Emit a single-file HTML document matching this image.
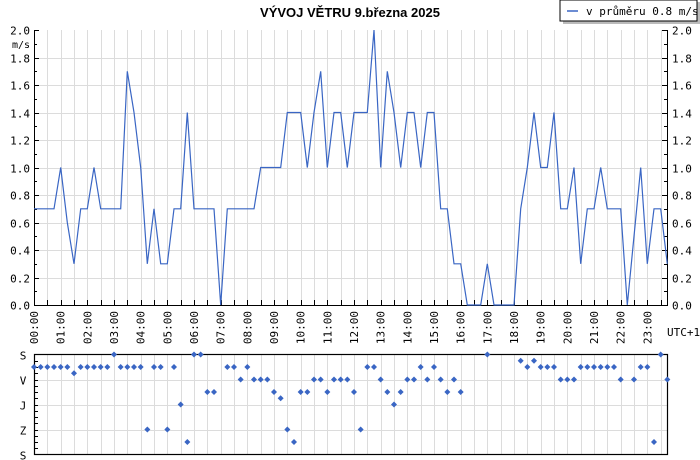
<!DOCTYPE html>
<html><head><meta charset="utf-8"><style>
body{margin:0;background:#fff;}
svg{display:block;font-family:"DejaVu Sans Mono","Liberation Mono",monospace;}
</style></head><body>
<svg id="c" width="700" height="460" viewBox="0 0 700 460">
<text x="350" y="17" text-anchor="middle" font-family="Liberation Sans, sans-serif" font-weight="bold" font-size="13">VÝVOJ VĚTRU  9.března 2025</text>
<g>
<rect x="563" y="2" width="137" height="22" fill="#bbb"/>
<rect x="560" y="0" width="137" height="21" fill="#fff" stroke="#000"/>
<line x1="567" y1="11" x2="578" y2="11" stroke="#3a66c4" stroke-width="1.5"/>
<text x="586" y="15" font-size="11">v průměru 0.8 m/s</text>
</g>
<g id="grid"></g>
<g id="axes"></g>
<g id="marks"></g>
</svg>
<script>
const speeds=[0.7,0.7,0.7,0.7,1.0,0.6,0.3,0.7,0.7,1.0,0.7,0.7,0.7,0.7,1.7,1.4,1.0,0.3,0.7,0.3,0.3,0.7,0.7,1.4,0.7,0.7,0.7,0.7,0,0.7,0.7,0.7,0.7,0.7,1.0,1.0,1.0,1.0,1.4,1.4,1.4,1.0,1.4,1.7,1.0,1.4,1.4,1.0,1.4,1.4,1.4,2.0,1.0,1.7,1.4,1.0,1.4,1.4,1.0,1.4,1.4,0.7,0.7,0.3,0.3,0,0,0,0.3,0,0,0,0,0.7,1.0,1.4,1.0,1.0,1.4,0.7,0.7,1.0,0.3,0.7,0.7,1.0,0.7,0.7,0.7,0,0.5,1.0,0.3,0.7,0.7,0.3];
const directions=[45,45,45,45,45,45,67.5,45,45,45,45,45,0,45,45,45,45,270,45,45,270,45,180,315,0,0,135,135,null,45,45,90,45,90,90,90,135,157.5,270,315,135,135,90,90,135,90,90,90,135,270,45,45,90,135,180,135,90,90,45,90,45,90,135,90,135,null,null,null,0,null,null,null,null,22.5,45,22.5,45,45,45,90,90,90,45,45,45,45,45,45,90,null,90,45,45,315,0,90];
const yTicks=["0.0","0.2","0.4","0.6","0.8","1.0","1.2","1.4","1.6","1.8","2.0"];
const hourLabels=["00:00","01:00","02:00","03:00","04:00","05:00","06:00","07:00","08:00","09:00","10:00","11:00","12:00","13:00","14:00","15:00","16:00","17:00","18:00","19:00","20:00","21:00","22:00","23:00"];
const dirLabels=["S","V","J","Z","S"];
const NS='http://www.w3.org/2000/svg';
const X0=34,X1=667,PH=26.667,Y0=305,Y1=30,D0=354.5,D1=454.5;
const xs=t=>X0+t*PH;            // t hours
const ys=v=>Y0-(v/2)*(Y0-Y1);
const yd=d=>D0+(d/360)*(D1-D0);
function mk(p,tag,a){const e=document.createElementNS(NS,tag);for(const k in a)e.setAttribute(k,a[k]);p.appendChild(e);return e;}
const grid=document.getElementById('grid'),axes=document.getElementById('axes'),marks=document.getElementById('marks');
// grids
for(let h=0.5;h<23.8;h+=0.5){const x=Math.round(xs(h))+0.5;if(x>=X1)break;
 let l=mk(grid,'line',{x1:x,y1:Y1,x2:x,y2:Y0,stroke:'#dcdcdc'});
 
 let l2=mk(grid,'line',{x1:x,y1:D0,x2:x,y2:D1,stroke:'#dcdcdc'});
 
 let tk=mk(axes,'line',{x1:x,y1:Y0,x2:x,y2:Y0-5,stroke:'#000'});
 }
yTicks.forEach((t,i)=>{const v=parseFloat(t),y=Math.round(ys(v))+0.5;
 if(i>0&&i<yTicks.length-1){let g=mk(grid,'line',{x1:X0,y1:y,x2:X1,y2:y,stroke:'#dcdcdc'});
 }
 [[X0,X0+5],[X1,X1-5]].forEach(p=>{mk(axes,'line',{x1:p[0],y1:y,x2:p[1],y2:y,stroke:'#000'});});
 const ym=Math.round(ys(v+0.1))+0.5;if(i<yTicks.length-1){mk(axes,'line',{x1:X0,y1:ym,x2:X0+3,y2:ym,stroke:'#000'});mk(axes,'line',{x1:X1,y1:ym,x2:X1-3,y2:ym,stroke:'#000'});}
 let a=mk(axes,'text',{x:30,y:y+4,'text-anchor':'end','font-size':11});a.textContent=t;
 
 let b=mk(axes,'text',{x:672,y:y+4,'font-size':11});b.textContent=t;
 });
let u=mk(axes,'text',{x:30,y:48,'text-anchor':'end','font-size':10});u.textContent='m/s';

let frame=mk(axes,'path',{d:`M${X0+.5},${Y1}V${Y0+.5}H${X1+.5}V${Y1}`,fill:'none',stroke:'#000'});

hourLabels.forEach((h,i)=>{const x=xs(i)+4;let t=mk(axes,'text',{x:0,y:0,'font-size':11,'text-anchor':'end',transform:`translate(${x},311) rotate(-90)`});t.textContent=h;
 });
let utc=mk(axes,'text',{x:667,y:336,'font-size':11});utc.textContent='UTC+1';

// direction panel
dirLabels.forEach((d,i)=>{const y=Math.round(yd(i*90))+0.5;
 if(i>0&&i<4){let g=mk(grid,'line',{x1:X0,y1:y,x2:X1,y2:y,stroke:'#dcdcdc'});}
 let t=mk(axes,'text',{x:23,y:y+4,'font-size':11,'text-anchor':'middle'});t.textContent=d;
 });
for(let d=22.5;d<360;d+=22.5){const y=Math.round(yd(d))+0.5;mk(axes,'line',{x1:X0,y1:y,x2:X0+4,y2:y,stroke:'#000'});}
let df=mk(axes,'rect',{x:X0+.5,y:D0,width:X1-X0,height:D1-D0,fill:'none',stroke:'#000','stroke-width':1.2});

// speed line
const pts=speeds.map((v,i)=>xs(i/4).toFixed(1)+','+ys(v).toFixed(1)).join(' ');
const line=mk(marks,'polyline',{points:pts,fill:'none',stroke:'#3a66c4','stroke-width':1.2});


// direction markers
const dg=mk(marks,'g',{'clip-path':''});
directions.forEach((d,i)=>{if(d===null)return;const x=xs(i/4),y=yd(d);
 const m=mk(marks,'path',{d:`M${x},${y-3}L${x+3},${y}L${x},${y+3}L${x-3},${y}Z`,fill:'#3a66c4'});
 
 });
</script>
</body></html>
